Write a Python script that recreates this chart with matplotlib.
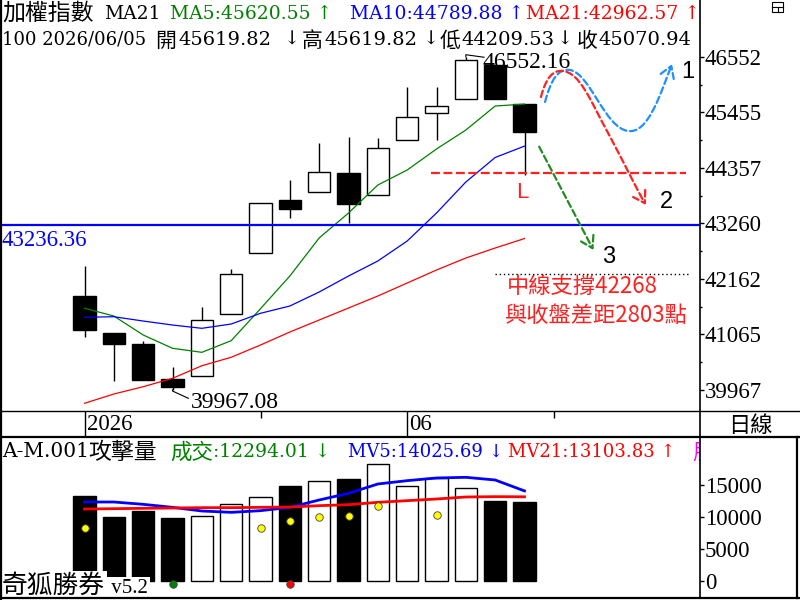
import matplotlib
matplotlib.use("Agg")
import matplotlib.pyplot as plt
import numpy as np
from matplotlib.patches import FancyArrowPatch, Rectangle
from matplotlib.path import Path
from matplotlib.lines import Line2D

plt.rcParams['font.family'] = ['Liberation Serif', 'DejaVu Sans', 'Noto Sans CJK TC']

# ---------------- data ----------------
opens  = [41826, 41094, 40877, 40186, 40250, 41464, 42676, 43724, 43876, 44258, 43829, 44905, 45439, 45716, 46394, 45619.82]
highs  = [42425, 41100, 40936, 40422, 41602, 42360, 43659, 44120, 44851, 44970, 44950, 45959, 45959, 46552.16, 46400, 45619.82]
lows   = [41021, 40151, 40165, 39967.08, 40250, 41464, 42676, 43374, 43876, 43263, 43829, 44905, 44905, 45716, 45716, 44209.53]
closes = [41153, 40883, 40171, 40020, 41345, 42255, 43659, 43552, 44272, 43651, 44747, 45360, 45577, 46487, 45716, 45070.94]

ma5  = [41583, 41430, 41055, 40792, 40712, 40942, 41575, 42221, 42973, 43467, 44021, 44317, 44733, 45108, 45583, 45620.55]
ma10 = [41405, 41416, 41331, 41252, 41187, 41272, 41484, 41628, 41905, 42221, 42518, 42913, 43467, 44080, 44565, 44789.88]
ma21 = [39704, 39888, 40032, 40198, 40447, 40614, 40857, 41114, 41351, 41588, 41826, 42083, 42340, 42577, 42775, 42962.57]

volume = [13231, 9949, 10887, 9793, 10053, 11981, 13023, 14794, 15523, 15888, 18180, 14742, 15992, 14429, 12450, 12294.01]
mv5    = [12293, 12293, 11929, 11460, 10887, 10678, 10939, 11460, 12606, 13648, 15106, 15627, 16044, 16148, 15731, 14025.69]
mv21   = [11199, 11251, 11304, 11356, 11408, 11408, 11460, 11512, 11720, 11877, 12241, 12502, 12762, 13075, 13127, 13103.83]

yellow_idx = [0, 6, 7, 8, 9, 10, 12]
yellow_val = [8282, 8230, 9324, 9949, 10157, 11720, 10314]
green_idx, green_val = [3], [-521]
red_idx, red_val = [7], [-521]

support_level = 43236.36
low_dash_level = 44250
mid_support = 42268
high_value = 46552.16
low_value = 39967.08

price_ticks = [46552, 45455, 44357, 43260, 42162, 41065, 39967]
price_tick_labels = ['46552', '45455', '44357', '43260', '42162', '41065', '39967']
vol_ticks = [0, 5000, 10000, 15000]
vol_tick_labels = ['0', '5000', '10000', '15000']
date_major_idx = [0, 11]
date_major_labels = ['2026', '06']
date_minor_idx = [6, 16]

# scenario drawings (bar index, price)
blue_curve_x = [15.70, 15.90, 16.14, 16.55, 17.23, 17.74, 18.53, 19.21, 19.62, 20.03]
blue_curve_y = [45662, 46097, 46335, 46295, 46236, 45148, 45089, 45029, 45801, 46414]
red_curve_x = [15.56, 15.73, 15.97, 16.28, 16.89, 17.23, 17.85, 18.43, 18.84, 19.14]
red_curve_y = [45761, 46137, 46295, 46275, 46256, 45702, 45049, 44417, 43922, 43626]
green_arrow_x = [15.50, 17.35]
green_arrow_y = [44778, 42736]

# ---------------- figure ----------------
W, H = 800, 600
fig = plt.figure(figsize=(8, 6), dpi=100)
fig.patch.set_facecolor('white')

def fx(px):
    return px / W

def fy(py):
    return 1 - py / H

XL = (-2.847, 20.983)
ax = fig.add_axes([fx(1), fy(411), 699 / W, 411 / H])
ax_d = fig.add_axes([fx(1), fy(437), 699 / W, 26 / H])
ax_v = fig.add_axes([fx(1), fy(598), 699 / W, 161 / H])
for a in (ax, ax_d, ax_v):
    a.set_xlim(*XL)
    for s in a.spines.values():
        s.set_visible(False)
    a.set_xticks([])
    a.patch.set_alpha(0)

x = np.arange(len(opens))
o = np.array(opens); c = np.array(closes)
up = c >= o
cols = ['white' if u else 'black' for u in up]

# ---- price panel ----
ax.set_ylim(39551.8, 47679.3)
ax.vlines(x, lows, highs, color='black', lw=1.0, zorder=2)
ax.bar(x, np.abs(c - o), bottom=np.minimum(o, c), width=0.76, color=cols,
       edgecolor='black', linewidth=1.0, zorder=3)
ax.plot(x, ma5, color='#008000', lw=0.9, zorder=4)
ax.plot(x, ma10, color='#0000FF', lw=0.9, zorder=4)
ax.plot(x, ma21, color='#FF0000', lw=0.9, zorder=4)
ax.axhline(support_level, color='#0000FF', lw=1.6, zorder=4)
ax.annotate('43236.36', xy=(0, support_level), xycoords=('axes fraction', 'data'),
            xytext=(1, -21), textcoords='offset pixels', va='baseline', ha='left',
            color='#0000FF', fontsize=16.5)

ax.yaxis.tick_right()
ax.set_yticks(price_ticks)
ax.set_yticklabels(price_tick_labels)
pt = np.array(price_ticks, dtype=float)
ax.set_yticks((pt[:-1] + pt[1:]) / 2, minor=True)
ax.tick_params(axis='y', which='major', length=3, width=1, pad=0.5, labelsize=16.5, colors='black')
ax.tick_params(axis='y', which='minor', length=1.5, width=1)

# high / low annotations
ax.plot([13, 13, 13.62], [high_value, high_value + 45, high_value - 5], color='black', lw=0.8, zorder=5)
ax.text(13.58, 46335, '46552.16', fontsize=17, va='baseline', ha='left', zorder=6)
ax.plot([3, 3, 3.54], [low_value, low_value - 20, 39803], color='black', lw=0.8, zorder=5)
ax.text(3.64, 39611, '39967.08', fontsize=17, va='baseline', ha='left', zorder=6)

# scenario drawings
dash = (0, (3, 1.6))
ax.hlines(low_dash_level, 11.81, 20.51, colors='#FF2020', lw=1.6, linestyles=[(0, (4, 1.6))], zorder=5)
ax.hlines(mid_support, 14.0, 20.58, colors='black', lw=1.0, linestyles=[(0, (1, 2))], zorder=5)
codes = [Path.MOVETO] + [Path.CURVE4] * 9
for cx, cy, col in ((blue_curve_x, blue_curve_y, '#1E90FF'), (red_curve_x, red_curve_y, '#FF2020')):
    p = FancyArrowPatch(path=Path(np.column_stack([cx, cy]), codes),
                        arrowstyle='->,head_length=0.45,head_width=0.28', mutation_scale=18,
                        color=col, lw=1.6, linestyle=dash, zorder=6)
    ax.add_patch(p)
ga = FancyArrowPatch((green_arrow_x[0], green_arrow_y[0]), (green_arrow_x[1], green_arrow_y[1]),
                     arrowstyle='->,head_length=0.45,head_width=0.28', mutation_scale=18,
                     color='#228B22', lw=1.6, linestyle=dash, shrinkA=0, shrinkB=0, zorder=6)
ax.add_patch(ga)

ax.text(20.36, 46137, '1', fontsize=17, family='Liberation Sans', va='baseline')
ax.text(19.62, 43566, '2', fontsize=17, family='Liberation Sans', va='baseline')
ax.text(17.63, 42478, '3', fontsize=17, family='Liberation Sans', va='baseline')
ax.text(14.73, 43764, 'L', fontsize=16, family='Liberation Sans', va='baseline', color='#FF2020')
ax.text(14.39, 41885, '中線支撐42268', fontsize=16, family=['Noto Sans CJK TC'], va='baseline', color='#FF2020')
ax.text(14.34, 41312, '與收盤差距2803點', fontsize=16, family=['Noto Sans CJK TC'], va='baseline', color='#FF2020')

# ---- date strip ----
ax_d.set_ylim(0, 1)
ax_d.set_yticks([])
ax_d.vlines(date_major_idx, 0, 1, color='black', lw=1.0)
ax_d.vlines(date_minor_idx, 0.72, 1, color='black', lw=1.0)
for i, lbl in zip(date_major_idx, date_major_labels):
    ax_d.annotate(lbl, xy=(i, 0.5), xytext=(2, 0), textcoords='offset pixels',
                  va='center', ha='left', fontsize=16.5)

# ---- volume panel ----
ax_v.set_ylim(-2702, 22446)
ax_v.bar(x, volume, width=0.76, color=cols, edgecolor='black', linewidth=1.0, zorder=2)
ax_v.plot(x, mv5, color='#0000FF', lw=2.0, zorder=3)
ax_v.plot(x, mv21, color='#FF0000', lw=2.0, zorder=3)
ax_v.plot(yellow_idx, yellow_val, 'o', ms=5.4, mfc='#FFFF00', mec='#444444', mew=0.6, zorder=4, clip_on=False)
ax_v.plot(green_idx, green_val, 'o', ms=5.4, mfc='#008000', mec='#444444', mew=0.6, zorder=4, clip_on=False)
ax_v.plot(red_idx, red_val, 'o', ms=5.4, mfc='#FF0000', mec='#444444', mew=0.6, zorder=4, clip_on=False)
ax_v.yaxis.tick_right()
ax_v.set_yticks(vol_ticks)
ax_v.set_yticklabels(vol_tick_labels)
ax_v.tick_params(axis='y', which='major', length=3, width=1, pad=0.5, labelsize=16.5)

# ---- header texts ----
HF = ['DejaVu Serif', 'DejaVu Sans', 'Noto Sans CJK TC']
CJ = ['Noto Sans CJK TC']
def htxt(px, py, s, col, size=13.5, fam=HF, **kw):
    return fig.text(fx(px), fy(py), s, color=col, family=fam, fontsize=size,
                    va='baseline', ha='left', **kw)

# line 1
htxt(2, 20, '加權指數', 'black', size=16.5, fam=CJ)
htxt(104, 19, 'MA21', 'black')
htxt(170, 19, 'MA5:45620.55 ↑', '#008000')
htxt(350, 19, 'MA10:44789.88 ↑', '#0000FF')
htxt(526, 19, 'MA21:42962.57 ↑', '#FF0000')

# line 2
htxt(2, 45, '100 2026/06/05', 'black', size=13)
htxt(155, 47, '開', 'black', size=15, fam=CJ)
htxt(178, 45, '45619.82', 'black', size=14)
htxt(284, 45, '↓', 'black', size=14)
htxt(302, 47, '高', 'black', size=15, fam=CJ)
htxt(324, 45, '45619.82', 'black', size=14)
htxt(423, 45, '↓', 'black', size=14)
htxt(440, 47, '低', 'black', size=15, fam=CJ)
htxt(461, 45, '44209.53', 'black', size=14)
htxt(557, 45, '↓', 'black', size=14)
htxt(577, 47, '收', 'black', size=15, fam=CJ)
htxt(598, 45, '45070.94', 'black', size=14)

# volume header
htxt(2, 457, 'A-M.001', 'black', size=14.5)
htxt(88, 459, '攻擊量', 'black', size=16.5, fam=CJ)
htxt(170, 459, '成交', '#008000', size=15.5, fam=CJ)
htxt(213, 457, ':12294.01 ↓', '#008000')
htxt(348, 457, 'MV5:14025.69 ↓', '#0000FF', size=13)
htxt(508, 457, 'MV21:13103.83 ↑', '#FF0000', size=13)
t = htxt(692, 459, '朋', '#FF00FF', size=15.5, fam=CJ)
t.set_clip_box(ax_v.bbox)
t.set_clip_on(True)

fig.text(fx(2), fy(593), '奇狐勝券', family=CJ, fontsize=18.5, va='baseline', ha='left',
         bbox=dict(facecolor='white', edgecolor='none', pad=1.5), zorder=10)
fig.text(fx(106), fy(593), ' v5.2', family='Liberation Serif', fontsize=15, va='baseline', ha='left',
         bbox=dict(facecolor='white', edgecolor='none', pad=1.5), zorder=10)
fig.text(fx(750), fy(425), '日線', family=CJ, fontsize=16, va='center', ha='center')

# ---- frame lines ----
def fline(x0, y0, x1, y1, lw=1.0):
    fig.add_artist(Line2D([fx(x0), fx(x1)], [fy(y0), fy(y1)], transform=fig.transFigure,
                          color='black', lw=lw, zorder=20))

fline(0.8, 0, 0.8, 600, 1.6)
fline(700, 0, 700, 598, 1.2)
fline(0, 411, 800, 411, 1.0)
fline(0, 437, 800, 437, 1.6)
fline(0, 598, 800, 598, 1.6)
fline(797, 437, 797, 598, 1.6)

# small window icon top-right
fig.add_artist(Rectangle((fx(772), fy(12)), 11 / W, 10 / H, transform=fig.transFigure,
                         fill=False, edgecolor='black', lw=0.8))
fline(772, 7, 783, 7, 0.8)
fline(777.5, 7, 777.5, 12, 0.8)

fig.savefig('out.png', dpi=100, facecolor='white')
